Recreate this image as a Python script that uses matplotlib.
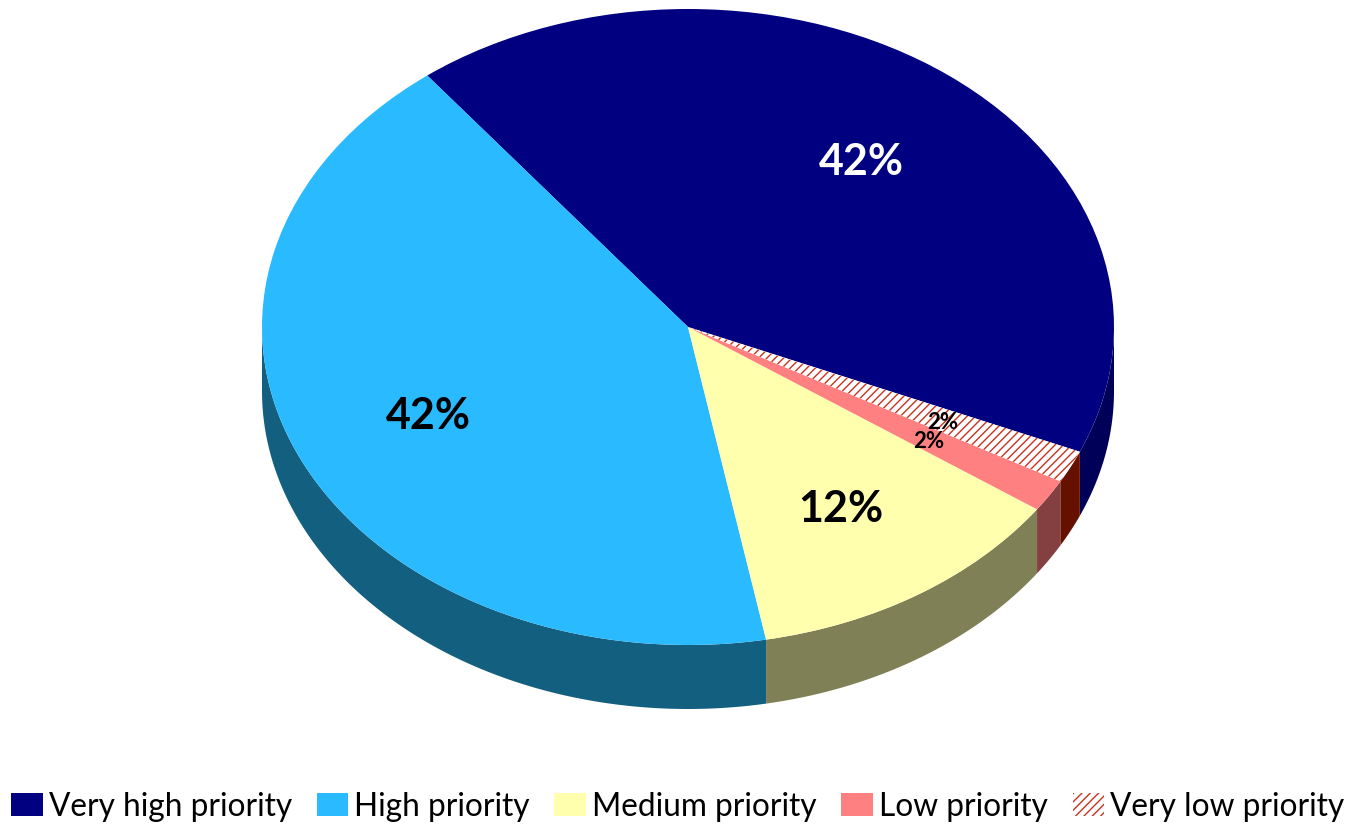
import numpy as np
import matplotlib.pyplot as plt

categories = ["Very high priority", "High priority", "Medium priority", "Low priority", "Very low priority"]
values = [41.9, 42.45, 12.35, 1.65, 1.65]
labels = ["42%", "42%", "12%", "2%", "2%"]
colors = ["#000080", "#29BAFF", "#FFFFAD", "#FF8080", "#FFFFFF"]
side_colors = ["#000058", "#135F80", "#808056", "#844040", "#661100"]

W, H = 1350, 824
CX, CY, RX, RY = 688, 327, 426, 318
DEPTH = 64 / RY
START = -23.1

plt.rcParams["font.family"] = ["Lato", "DejaVu Sans"]
plt.rcParams["hatch.linewidth"] = 1.0


def px(x, y):
    return (x - CX) / RX, (CY - y) / RY


fig = plt.figure(figsize=(W / 100, H / 100), dpi=100)
ax = fig.add_axes([0, 0, 1, 1])

wedges, _ = ax.pie(values, colors=colors, startangle=START, radius=1,
                   wedgeprops={"linewidth": 0, "zorder": 3})
wedges[-1].set_hatch("////")
wedges[-1].set_edgecolor("#C8321E")

ax.set_aspect("auto")
ax.set_xlim(-CX / RX, (W - CX) / RX)
ax.set_ylim((CY - H) / RY, CY / RY)
ax.axis("off")

# the side wall, only the part facing the viewer (lower half of the ellipse)
edges = START + np.cumsum([0] + values) / sum(values) * 360
for i in range(len(values)):
    for shift in (0, 360):
        a = max(edges[i] - shift, -180)
        b = min(edges[i + 1] - shift, 0)
        if b <= a:
            continue
        t = np.radians(np.linspace(a, b, 200))
        xs = np.r_[np.cos(t), np.cos(t[::-1])]
        ys = np.r_[np.sin(t), np.sin(t[::-1]) - DEPTH]
        ax.fill(xs, ys, color=side_colors[i], linewidth=0, zorder=2)

label_pos = [(861, 162), (428, 416), (841, 509), (929, 441), (943, 422)]
label_size = [31, 31, 31, 16, 16]
label_color = ["white", "black", "black", "black", "black"]
for txt, pos, size, col in zip(labels, label_pos, label_size, label_color):
    x, y = px(*pos)
    ax.text(x, y, txt, fontsize=size, fontweight="bold", color=col,
            ha="center", va="center", zorder=5)

fig.legend(wedges, categories, loc="lower center", bbox_to_anchor=(0.502, -0.024), ncols=5,
           frameon=False, fontsize=22.8, handlelength=1.0, handleheight=0.7,
           handletextpad=0.19, columnspacing=0.78, borderpad=0.2)

fig.savefig("out.png", dpi=100)
